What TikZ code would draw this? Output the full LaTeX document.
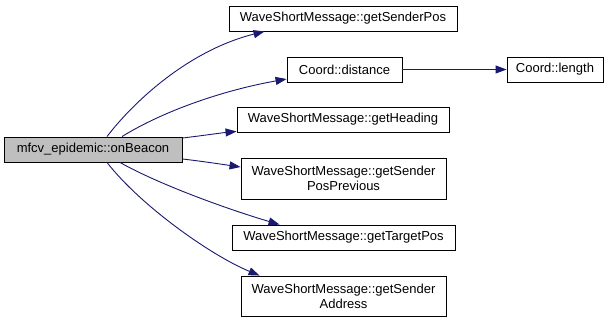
\documentclass[tikz,border=0pt]{standalone}
\usepackage{fontspec}
\setmainfont{Liberation Sans}
\usetikzlibrary{arrows.meta}
\definecolor{edgeblue}{HTML}{191970}
\definecolor{curfill}{HTML}{BFBFBF}
\begin{document}
\begin{tikzpicture}[x=1pt,y=-1pt,
  fn/.style={draw=black,line width=0.9pt,fill=white,inner sep=0pt,align=center,
    font=\fontsize{13}{15}\selectfont},
  current/.style={fn,fill=curfill},
  call/.style={draw=edgeblue,line width=0.9pt,
    -{Triangle[length=11pt,width=8pt,fill=edgeblue]}}]
\useasboundingbox (0,0) rectangle (613,322);
% functions
\node[current,minimum width=178pt,minimum height=25pt] (src) at (93,149.5) {mfcv\_epidemic::onBeacon};
\node[fn,minimum width=228pt,minimum height=25pt] (gsp) at (343,18.5) {WaveShortMessage::getSenderPos};
\node[fn,minimum width=115pt,minimum height=25pt] (dist) at (344.5,69.5) {Coord::distance};
\node[fn,minimum width=96pt,minimum height=25pt] (len) at (555,69.5) {Coord::length};
\node[fn,minimum width=212pt,minimum height=25pt] (head) at (343,119.5) {WaveShortMessage::getHeading};
\node[fn,minimum width=205pt,minimum height=41pt] (prev) at (343.5,178.5) {WaveShortMessage::getSender\\PosPrevious};
\node[fn,minimum width=223pt,minimum height=25pt] (tgt) at (343.5,237.5) {WaveShortMessage::getTargetPos};
\node[fn,minimum width=205pt,minimum height=40pt] (addr) at (343.5,296) {WaveShortMessage::getSender\\Address};
% calls
\draw[call] ([xshift=14pt]src.north) .. controls (135,100) and (190,50) .. ([xshift=36pt]gsp.south west);
\draw[call] ([xshift=29pt]src.north) .. controls (165,110) and (225,90) .. ([yshift=-9.5pt]dist.west);
\draw[call] ([yshift=11.5pt]src.east) .. controls (200,136) and (220,133) .. ([yshift=1pt]head.south west);
\draw[call] ([yshift=-9.5pt]src.east) .. controls (200,161) and (220,164) .. ([yshift=11.5pt]prev.west);
\draw[call] ([xshift=27pt]src.south) .. controls (160,185) and (230,210) .. ([xshift=48pt]tgt.north west);
\draw[call] ([xshift=14pt]src.south) .. controls (140,205) and (210,255) .. ([xshift=19pt]addr.north west);
\draw[call] (dist.east) -- (len.west);
\end{tikzpicture}
\end{document}
